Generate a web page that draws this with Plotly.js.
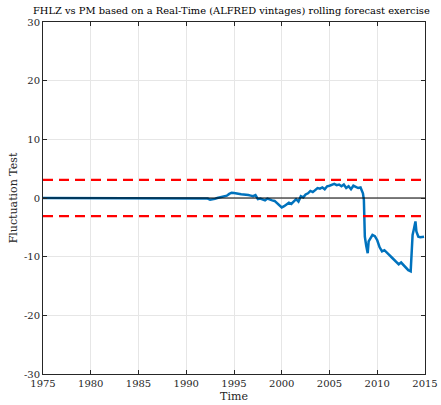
<!DOCTYPE html>
<html>
<head>
<meta charset="utf-8">
<script src="https://cdn.plot.ly/plotly-3.0.1.min.js"></script>
<style>html,body{margin:0;padding:0;background:#fff;}#chart{width:441px;height:405px;}</style>
</head>
<body>
<div id="chart"></div>
<script>
// Time (decimal years) and fluctuation test statistic
const years = [1975, 1992.0, 1992.25, 1992.5, 1992.75, 1993.0, 1993.25, 1993.5, 1993.75, 1994.0, 1994.25, 1994.5, 1994.75,
  1995.0, 1995.25, 1995.5, 1995.75, 1996.0, 1996.25, 1996.5, 1996.75, 1997.0, 1997.25, 1997.5, 1997.75,
  1998.0, 1998.25, 1998.5, 1998.75, 1999.0, 1999.25, 1999.5, 1999.75, 2000.0, 2000.25, 2000.5, 2000.75,
  2001.0, 2001.25, 2001.5, 2001.75, 2002.0, 2002.25, 2002.5, 2002.75, 2003.0, 2003.25, 2003.5, 2003.75,
  2004.0, 2004.25, 2004.5, 2004.75, 2005.0, 2005.25, 2005.5, 2005.75, 2006.0, 2006.25, 2006.5, 2006.75,
  2007.0, 2007.25, 2007.5, 2007.75, 2008.0, 2008.25, 2008.5, 2008.6, 2008.7, 2008.85, 2009.0, 2009.1,
  2009.3, 2009.5, 2009.75, 2010.0, 2010.25, 2010.5, 2010.75, 2011.0, 2011.25, 2011.5, 2011.75, 2012.0,
  2012.25, 2012.5, 2012.75, 2013.0, 2013.25, 2013.5, 2013.6, 2013.7, 2013.85, 2014.0, 2014.1, 2014.3,
  2014.5, 2014.75, 2014.9];
const fluct = [0, 0, -0.1, -0.3, -0.25, -0.15, 0, 0.1, 0.2, 0.3, 0.4, 0.7, 0.9,
  0.85, 0.75, 0.7, 0.65, 0.6, 0.6, 0.5, 0.4, 0.3, 0.5, -0.2, -0.1,
  -0.3, -0.4, -0.1, -0.3, -0.4, -0.5, -0.9, -1.3, -1.6, -1.4, -1.1, -0.8,
  -1.0, -0.5, -0.2, -0.6, 0.3, 0.1, 0.6, 0.8, 1.2, 1.0, 1.4, 1.7,
  1.6, 1.8, 1.5, 2.0, 2.1, 2.3, 2.4, 2.2, 2.3, 2.0, 2.3, 1.7,
  2.0, 1.5, 2.1, 1.9, 1.7, 1.8, 0.8, -0.3, -6.6, -8.2, -9.4, -7.4,
  -6.8, -6.3, -6.5, -7.2, -8.4, -9.1, -8.9, -9.4, -9.7, -10.1, -10.5, -10.8,
  -11.3, -11.0, -11.4, -11.9, -12.3, -12.5, -9.0, -6.3, -5.2, -4.0, -5.7, -6.6,
  -6.7, -6.6, -6.6];
const critValue = 3.09;
const xRange = [1975, 2015];
const xTicks = [1975, 1980, 1985, 1990, 1995, 2000, 2005, 2010, 2015];
const yTicks = [-30, -20, -10, 0, 10, 20, 30];
const titleText = 'FHLZ vs PM based on a Real-Time (ALFRED vintages) rolling forecast exercise';

const font = '"DejaVu Serif"';

const traces = [
  {x: years, y: fluct, type: 'scatter', mode: 'lines', line: {color: '#0072BD', width: 2.5}, hoverinfo: 'skip'},
  {x: xRange, y: [0, 0], type: 'scatter', mode: 'lines', line: {color: '#000000', width: 1.1}},
  {x: xRange, y: [critValue, critValue], type: 'scatter', mode: 'lines', line: {color: '#FF0000', width: 2.2, dash: '10px,6px'}},
  {x: xRange, y: [-critValue, -critValue], type: 'scatter', mode: 'lines', line: {color: '#FF0000', width: 2.2, dash: '10px,6px'}}
];

const axisCommon = {
  showline: true, linecolor: '#262626', linewidth: 1, mirror: 'ticks',
  ticks: 'inside', ticklen: 4, tickcolor: '#262626', tickwidth: 1,
  showgrid: true, gridcolor: '#e6e6e6', gridwidth: 1, zeroline: false,
  tickfont: {family: font, size: 10, color: '#262626'}
};

const layout = {
  width: 441, height: 405,
  margin: {l: 43, r: 16, t: 22, b: 31},
  paper_bgcolor: '#ffffff', plot_bgcolor: '#ffffff',
  showlegend: false,
  annotations: [{text: titleText, xref: 'paper', yref: 'paper', x: 0.4935, y: 1.034,
    xanchor: 'center', yanchor: 'middle', showarrow: false,
    font: {family: font, size: 9.9, color: '#000'}}],
  xaxis: Object.assign({}, axisCommon, {range: xRange, tickvals: xTicks, ticktext: xTicks.map(String),
    title: {text: 'Time', font: {family: font, size: 11, color: '#262626'}, standoff: 4}}),
  yaxis: Object.assign({}, axisCommon, {range: [-30, 30], tickvals: yTicks, ticktext: yTicks.map(String),
    title: {text: 'Fluctuation Test', font: {family: font, size: 11, color: '#262626'}, standoff: 4}})
};

Plotly.newPlot('chart', traces, layout, {displayModeBar: false, staticPlot: true});
</script>
</body>
</html>
